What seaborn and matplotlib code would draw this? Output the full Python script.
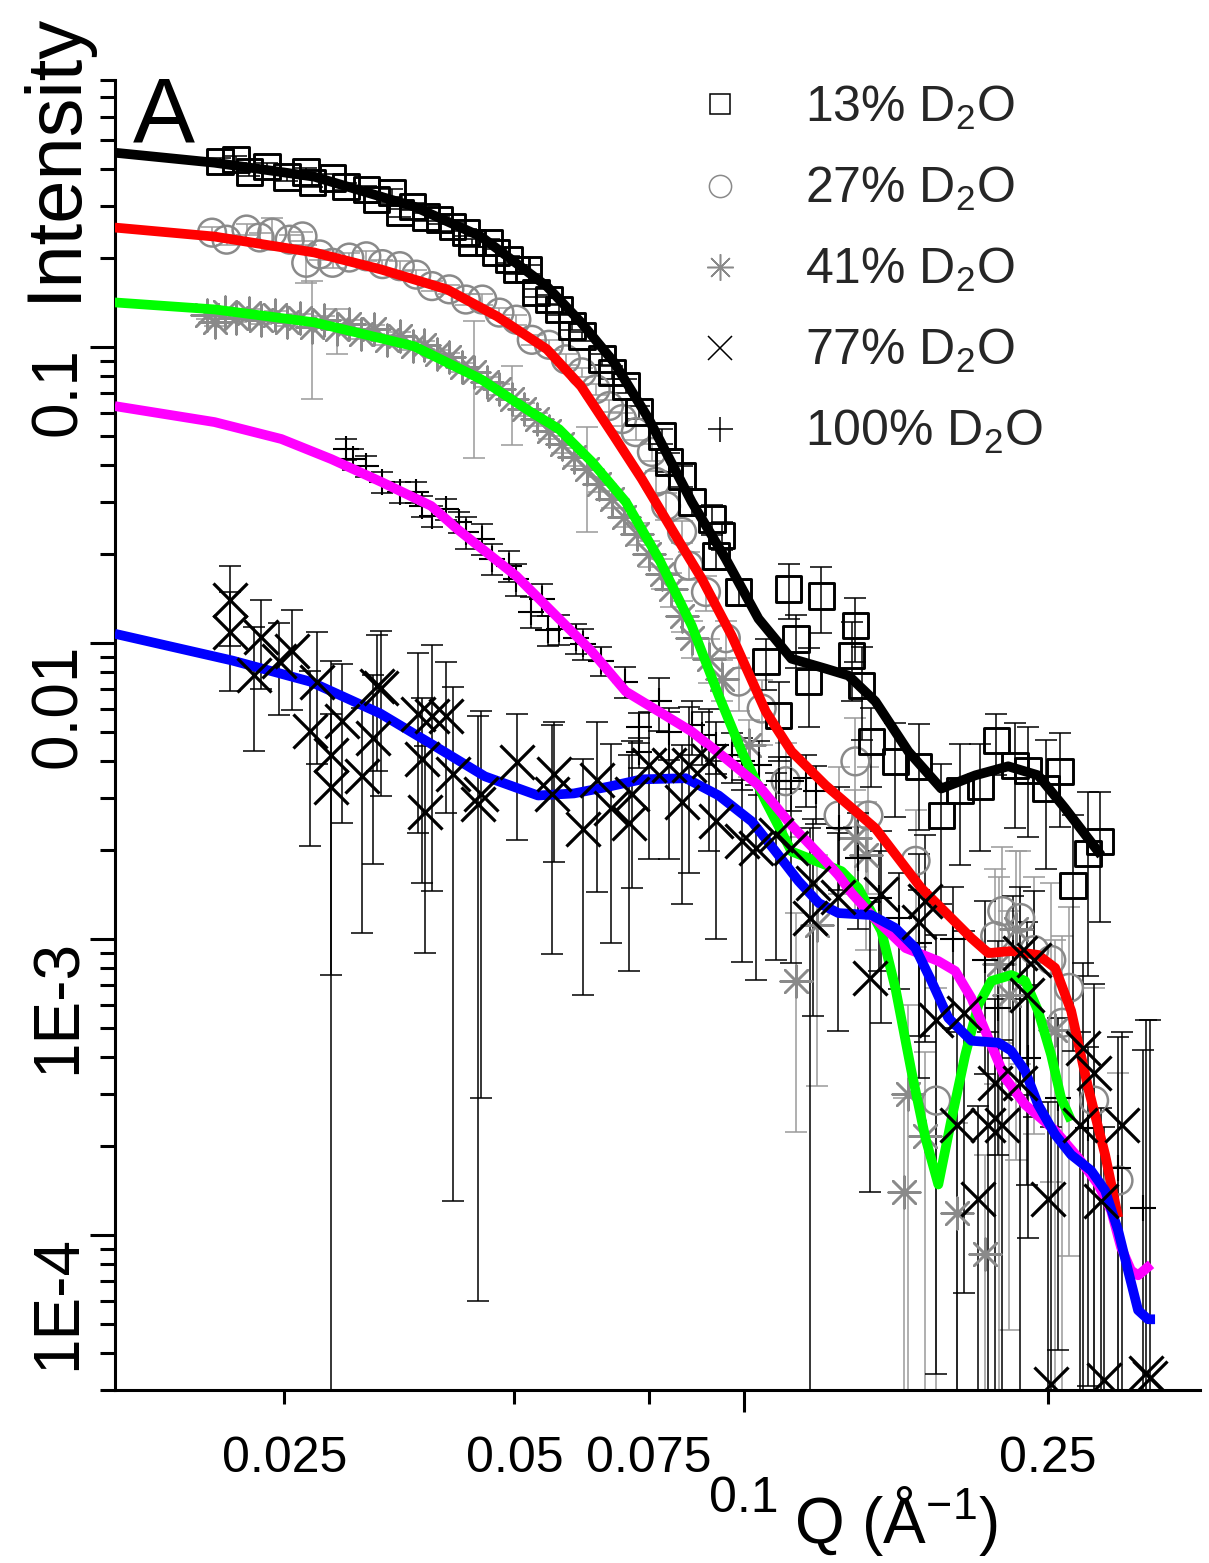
import matplotlib
matplotlib.use("Agg")
import numpy as np
import matplotlib.pyplot as plt
import seaborn as sns
from matplotlib.lines import Line2D
from matplotlib.ticker import FixedLocator, FixedFormatter, LogLocator, NullFormatter

# ---------------- measured SANS intensities (Q in 1/Angstrom) ----------------
# 13% D2O
q13 = [0.0206, 0.0216, 0.0225, 0.0237, 0.0252, 0.0267, 0.0272, 0.0289, 0.0301, 0.0320,
       0.0330, 0.0346, 0.0354, 0.0368, 0.0383, 0.0399, 0.0415, 0.0432, 0.0440, 0.0463,
       0.0473, 0.0492, 0.0503, 0.0522, 0.0534, 0.0555, 0.0572, 0.0595, 0.0613, 0.0651,
       0.0671, 0.0700, 0.0728, 0.0780, 0.0797, 0.0829, 0.0854, 0.0907, 0.0934, 0.0918,
       0.0983, 0.1067, 0.1109, 0.1143, 0.1168, 0.1214, 0.1262, 0.1382, 0.1398, 0.1424,
       0.1467, 0.1577, 0.1691, 0.1812, 0.1918, 0.2038, 0.2138, 0.2263, 0.2354, 0.2485,
       0.2592, 0.2695, 0.2820, 0.2924]
i13 = [0.424, 0.431, 0.392, 0.408, 0.377, 0.392, 0.360, 0.374, 0.349, 0.341,
       0.316, 0.333, 0.285, 0.299, 0.276, 0.270, 0.256, 0.244, 0.226, 0.226,
       0.209, 0.198, 0.183, 0.183, 0.153, 0.145, 0.134, 0.118, 0.109, 0.0911,
       0.0823, 0.0739, 0.0604, 0.0501, 0.0410, 0.0367, 0.0300, 0.0263, 0.0231, 0.0197,
       0.0149, 0.00867, 0.00570, 0.01528, 0.01036, 0.00742, 0.01447, 0.00908, 0.01147, 0.00720,
       0.00466, 0.00399, 0.00384, 0.00262, 0.00318, 0.00328, 0.00469, 0.00387, 0.00372, 0.00323,
       0.00369, 0.00152, 0.00195, 0.00214]
e13 = [0.013, 0.013, 0.012, 0.012, 0.011, 0.012, 0.011, 0.011, 0.010, 0.010,
       0.009, 0.010, 0.009, 0.009, 0.008, 0.008, 0.008, 0.007, 0.007, 0.007,
       0.006, 0.006, 0.006, 0.006, 0.005, 0.005, 0.005, 0.004, 0.004, 0.004,
       0.004, 0.004, 0.003, 0.003, 0.003, 0.003, 0.003, 0.003, 0.0025, 0.002,
       0.0015, 0.0017, 0.0017, 0.0032, 0.0021, 0.0022, 0.0036, 0.0027, 0.0028, 0.0025,
       0.0014, 0.0014, 0.0015, 0.0013, 0.0014, 0.0013, 0.0011, 0.0015, 0.0015, 0.0015,
       0.0013, 0.0011, 0.0012, 0.0010]

# 27% D2O
q27 = [0.0201, 0.0210, 0.0223, 0.0232, 0.0241, 0.0254, 0.0264, 0.0267, 0.0278, 0.0289,
       0.0304, 0.0320, 0.0336, 0.0354, 0.0372, 0.0390, 0.0411, 0.0432, 0.0454, 0.0478,
       0.0503, 0.0527, 0.0555, 0.0584, 0.0613, 0.0639, 0.0665, 0.0692, 0.0721, 0.0757,
       0.0766, 0.0790, 0.0829, 0.0846, 0.0891, 0.0946, 0.0983, 0.1054, 0.1133, 0.1329,
       0.1398, 0.1454, 0.1676, 0.1784, 0.2131, 0.2177, 0.2298, 0.2397, 0.2523, 0.2608,
       0.2662, 0.2871, 0.3090]
i27 = [0.244, 0.231, 0.250, 0.235, 0.244, 0.231, 0.237, 0.193, 0.206, 0.193,
       0.201, 0.203, 0.191, 0.188, 0.176, 0.161, 0.157, 0.145, 0.145, 0.131,
       0.124, 0.106, 0.102, 0.0911, 0.0823, 0.0722, 0.0633, 0.0572, 0.0517, 0.0443,
       0.0351, 0.0291, 0.0238, 0.0183, 0.0149, 0.0104, 0.00742, 0.00602, 0.00342, 0.00262,
       0.00399, 0.00262, 0.00184, 0.000285, 0.001025, 0.001245, 0.00118, 0.000919, 0.000851, 0.000522,
       0.000685, 0.000285, 0.000153]
e27 = [0.010, 0.009, 0.010, 0.009, 0.030, 0.009, 0.009, 0.028, 0.008, 0.008,
       0.008, 0.008, 0.007, 0.007, 0.007, 0.006, 0.006, 0.006, 0.006, 0.005,
       0.005, 0.004, 0.004, 0.004, 0.003, 0.003, 0.003, 0.003, 0.003, 0.003,
       0.003, 0.003, 0.002, 0.002, 0.002, 0.0015, 0.0015, 0.0015, 0.0012, 0.0012,
       0.0016, 0.0012, 0.0009, 0.0004, 0.0007, 0.0008, 0.0008, 0.0007, 0.0007, 0.0005,
       0.0006, 0.0004, 0.0002]

# 41% D2O
q41 = [0.0198, 0.0203, 0.0209, 0.0216, 0.0225, 0.0233, 0.0243, 0.0252, 0.0262, 0.0272,
       0.0282, 0.0293, 0.0304, 0.0315, 0.0328, 0.0341, 0.0354, 0.0368, 0.0381, 0.0396,
       0.0411, 0.0427, 0.0443, 0.0461, 0.0478, 0.0497, 0.0515, 0.0535, 0.0555, 0.0577,
       0.0599, 0.0622, 0.0645, 0.0671, 0.0696, 0.0724, 0.0750, 0.0780, 0.0801, 0.0829,
       0.0854, 0.0899, 0.0934, 0.1013, 0.1168, 0.1244, 0.1398, 0.1445, 0.1620, 0.1640,
       0.1726, 0.1901, 0.2069, 0.2157, 0.2223, 0.2270, 0.2553]
i41 = [0.129, 0.122, 0.132, 0.126, 0.131, 0.124, 0.129, 0.122, 0.126, 0.117,
       0.124, 0.115, 0.120, 0.111, 0.115, 0.106, 0.109, 0.101, 0.102, 0.0947,
       0.0925, 0.0856, 0.0823, 0.0762, 0.0722, 0.0668, 0.0618, 0.0572, 0.0521, 0.0471,
       0.0426, 0.0388, 0.0345, 0.0307, 0.0267, 0.0234, 0.0201, 0.0172, 0.0153, 0.0124,
       0.0104, 0.00887, 0.00760, 0.00452, 0.000723, 0.00112, 0.00219, 0.00192, 0.000140, 0.000301,
       0.000217, 0.000119, 0.0000861, 0.000825, 0.000648, 0.00108, 0.000494]
e41 = [0.004, 0.004, 0.004, 0.004, 0.004, 0.004, 0.004, 0.004, 0.004, 0.050,
       0.004, 0.020, 0.004, 0.004, 0.004, 0.004, 0.004, 0.003, 0.003, 0.003,
       0.003, 0.003, 0.040, 0.003, 0.003, 0.020, 0.003, 0.003, 0.003, 0.003,
       0.003, 0.015, 0.002, 0.002, 0.002, 0.002, 0.002, 0.002, 0.002, 0.0015,
       0.0015, 0.0015, 0.0012, 0.0010, 0.0005, 0.0008, 0.0010, 0.0010, 0.00015, 0.0003,
       0.0002, 0.00012, 0.0001, 0.0008, 0.0006, 0.0009, 0.0005]

# 77% D2O
q77 = [0.0212, 0.0212, 0.0228, 0.0233, 0.0246, 0.0256, 0.0270, 0.0276, 0.0288, 0.0288,
       0.0297, 0.0316, 0.0330, 0.0334, 0.0327, 0.0374, 0.0390, 0.0407, 0.0379, 0.0382,
       0.0416, 0.0448, 0.0452, 0.0504, 0.0560, 0.0564, 0.0615, 0.0642, 0.0669, 0.0706,
       0.0713, 0.0750, 0.0797, 0.0829, 0.0846, 0.0899, 0.0918, 0.0993, 0.1035, 0.1099,
       0.1153, 0.1218, 0.1232, 0.1325, 0.1459, 0.1508, 0.1691, 0.1726, 0.1784, 0.1901,
       0.1942, 0.2025, 0.2087, 0.2131, 0.2177, 0.2298, 0.2298, 0.2347, 0.2397, 0.2500,
       0.2752, 0.2777, 0.2871, 0.2933, 0.3123, 0.2523, 0.2960, 0.3358, 0.3398]
i77 = [0.0140, 0.0109, 0.00784, 0.0105, 0.00874, 0.00944, 0.00507, 0.00742, 0.00418, 0.00326,
       0.00548, 0.00355, 0.00720, 0.00704, 0.00480, 0.00579, 0.00566, 0.00566, 0.00405, 0.00270,
       0.00363, 0.00286, 0.00309, 0.00396, 0.00309, 0.00363, 0.00235, 0.00344, 0.00277, 0.00248,
       0.00309, 0.00387, 0.00387, 0.00292, 0.00387, 0.00399, 0.00250, 0.00214, 0.00203, 0.00225,
       0.00203, 0.00118, 0.00155, 0.00139, 0.00074, 0.00142, 0.00114, 0.00135, 0.000534, 0.000236,
       0.000564, 0.000133, 0.000236, 0.000327, 0.000236, 0.000898, 0.000327, 0.000648, 0.000851, 0.000133,
       0.000236, 0.00043, 0.000354, 0.00013, 0.000236, 0.0000314, 0.0000324, 0.0000342, 0.000033]
e77 = [0.0042, 0.0040, 0.0035, 0.0035, 0.0030, 0.0035, 0.0030, 0.0035, 0.0045, 0.0025,
       0.0030, 0.0025, 0.0035, 0.0040, 0.0030, 0.0035, 0.0042, 0.0030, 0.0025, 0.0018,
       0.0035, 0.0028, 0.0028, 0.0018, 0.0022, 0.0018, 0.0017, 0.0020, 0.0018, 0.0017,
       0.0016, 0.0020, 0.0020, 0.0016, 0.0022, 0.0020, 0.0015, 0.0013, 0.0013, 0.0014,
       0.0012, 0.0012, 0.0010, 0.0009, 0.0006, 0.0009, 0.0008, 0.0009, 0.0005, 0.00025,
       0.0005, 0.00014, 0.00025, 0.0003, 0.00022, 0.0006, 0.0003, 0.0005, 0.0006, 0.00015,
       0.00025, 0.0004, 0.00035, 0.00014, 0.00025, 0.0002, 0.0002, 0.0005, 0.0005]

# 100% D2O
q100 = [0.0301, 0.0307, 0.0320, 0.0336, 0.0354, 0.0372, 0.0379, 0.0390, 0.0407, 0.0423,
        0.0432, 0.0454, 0.0468, 0.0492, 0.0503, 0.0526, 0.0544, 0.0554, 0.0572, 0.0602,
        0.0615, 0.0649, 0.0698, 0.0728, 0.0728, 0.0773, 0.0797, 0.0854, 0.0880, 0.0918,
        0.0963, 0.0993, 0.1045, 0.1109, 0.1153, 0.1203, 0.1240, 0.1329, 0.1411, 0.1499,
        0.1592, 0.1691, 0.1878, 0.2069, 0.2250, 0.2151, 0.2354, 0.2577, 0.2820, 0.3090,
        0.3328]
i100 = [0.0453, 0.0419, 0.0397, 0.0351, 0.0324, 0.0324, 0.0291, 0.0269, 0.0284, 0.0257,
        0.0238, 0.0225, 0.0193, 0.0183, 0.0165, 0.0128, 0.0141, 0.0111, 0.0112, 0.0104,
        0.00997, 0.00874, 0.00742, 0.00520, 0.00428, 0.00636, 0.00503, 0.00528, 0.00488, 0.00452,
        0.00418, 0.00399, 0.00387, 0.00342, 0.00342, 0.00350, 0.00316, 0.00237, 0.00188, 0.00138,
        0.00118, 0.000971, 0.00100, 0.000851, 0.000898, 0.000586, 0.000398, 0.000291, 0.000231, 0.000169,
        0.000124]
e100 = [0.0036, 0.0034, 0.0032, 0.0028, 0.0026, 0.0026, 0.0023, 0.0022, 0.0023, 0.0021,
        0.0029, 0.0027, 0.0023, 0.0022, 0.0020, 0.0015, 0.0017, 0.0013, 0.0013, 0.0012,
        0.0012, 0.0010, 0.0009, 0.0006, 0.0005, 0.0013, 0.0010, 0.0011, 0.0010, 0.0009,
        0.0008, 0.0008, 0.0008, 0.0007, 0.0007, 0.0007, 0.0007, 0.0009, 0.0008, 0.0006,
        0.0005, 0.0005, 0.0005, 0.0005, 0.0005, 0.0004, 0.0003, 0.00025, 0.0002, 0.0003,
        0.0003]

# ---------------- model fits ----------------
fq13 = [0.01499, 0.02025, 0.02736, 0.03697, 0.04522, 0.05516, 0.06113, 0.06753, 0.0750, 0.08537,
        0.09457, 0.1044, 0.1153, 0.1278, 0.1369, 0.1485, 0.1640, 0.1811, 0.2007, 0.2216,
        0.2425, 0.2630, 0.2933]
fi13 = [0.4545, 0.4205, 0.3771, 0.2988, 0.2367, 0.1606, 0.1214, 0.0890, 0.0572, 0.03002,
        0.01929, 0.01210, 0.00887, 0.00821, 0.00778, 0.00636, 0.00431, 0.00323, 0.00358, 0.00384,
        0.00358, 0.00277, 0.00192]

fq27 = [0.01499, 0.02025, 0.02736, 0.03347, 0.04083, 0.04747, 0.05516, 0.06113, 0.06753, 0.07343,
        0.08135, 0.08799, 0.09629, 0.1067, 0.1153, 0.1278, 0.1485, 0.1705, 0.1983, 0.2087,
        0.2236, 0.2425, 0.2553, 0.2679, 0.2820, 0.2968, 0.3087]
fi27 = [0.2539, 0.2367, 0.2091, 0.1832, 0.1569, 0.1272, 0.0985, 0.0739, 0.0501, 0.0359,
        0.02305, 0.01651, 0.01061, 0.00588, 0.00431, 0.00331, 0.00237, 0.001488, 0.001009, 0.000898,
        0.000912, 0.000885, 0.000800, 0.000573, 0.000315, 0.000187, 0.0001148]

fq41 = [0.01499, 0.02025, 0.02736, 0.03697, 0.04522, 0.05258, 0.05721, 0.06318, 0.06998, 0.07731,
        0.08537, 0.09259, 0.09923, 0.1067, 0.1153, 0.1341, 0.1411, 0.1512, 0.1577, 0.1655,
        0.1726, 0.1795, 0.1866, 0.1947, 0.2025, 0.2106, 0.2236, 0.2332, 0.2425, 0.2522,
        0.2599, 0.2679]
fi41 = [0.1418, 0.1343, 0.1214, 0.1008, 0.0780, 0.0604, 0.0529, 0.0410, 0.03002, 0.01929,
        0.01146, 0.00666, 0.00431, 0.00292, 0.00198, 0.001698, 0.001488, 0.001066, 0.000685, 0.000359,
        0.000214, 0.0001484, 0.0002438, 0.000407, 0.0006, 0.000723, 0.000757, 0.000723, 0.000573, 0.000407,
        0.000291, 0.0002438]

fq77 = [0.01499, 0.02138, 0.02703, 0.03338, 0.03903, 0.04576, 0.05370, 0.05985, 0.06652, 0.07343,
        0.08384, 0.09259, 0.1023, 0.1099, 0.1178, 0.1252, 0.1328, 0.1467, 0.1577, 0.1675,
        0.1758, 0.1850, 0.1983, 0.2151, 0.2236, 0.2332, 0.2425, 0.2553, 0.2679, 0.2845,
        0.2968, 0.3087, 0.3180, 0.3278, 0.3378, 0.3450]
fi77 = [0.01077, 0.00874, 0.00742, 0.00579, 0.00455, 0.00355, 0.00306, 0.00311, 0.00328, 0.00347,
        0.00350, 0.00306, 0.0025, 0.00198, 0.001571, 0.001325, 0.001226, 0.001207, 0.001091, 0.000934,
        0.000723, 0.000542, 0.000454, 0.000447, 0.00042, 0.000359, 0.000276, 0.0002187, 0.000187, 0.0001654,
        0.0001416, 0.0001037, 0.0000761, 0.0000558, 0.000052, 0.000052]

fq100 = [0.01499, 0.02025, 0.02477, 0.02880, 0.03347, 0.03892, 0.04208, 0.04536, 0.05027, 0.05721,
         0.06318, 0.06998, 0.07731, 0.08537, 0.09457, 0.1044, 0.1153, 0.1278, 0.1328, 0.1382,
         0.1467, 0.1626, 0.1795, 0.1889, 0.1983, 0.2068, 0.2196, 0.2332, 0.2553, 0.2736,
         0.2906, 0.3022, 0.3114, 0.3209, 0.3278, 0.3409]
fi100 = [0.0633, 0.0559, 0.0490, 0.0419, 0.0351, 0.0291, 0.02434, 0.02085, 0.01690, 0.01210,
         0.00937, 0.00687, 0.00588, 0.00503, 0.00408, 0.00331, 0.002427, 0.001835, 0.001646, 0.001432,
         0.001207, 0.000934, 0.000844, 0.000781, 0.000633, 0.00049, 0.00034, 0.000276, 0.0002256, 0.000183,
         0.0001484, 0.0001212, 0.0000910, 0.0000761, 0.0000732, 0.0000797]

legend_labels = ["13% D$_2$O", "27% D$_2$O", "41% D$_2$O", "77% D$_2$O", "100% D$_2$O"]
x_tick_vals = [0.025, 0.05, 0.075, 0.25]
x_tick_text = ["0.025", "0.05", "0.075", "0.25"]
y_tick_vals = [1e-4, 1e-3, 1e-2, 1e-1]
y_tick_text = ["1E-4", "1E-3", "0.01", "0.1"]

# ---------------- style ----------------
sns.set_theme(style="ticks")
plt.rcParams["font.family"] = ["Liberation Sans", "DejaVu Sans"]
plt.rcParams["mathtext.fontset"] = "custom"
plt.rcParams["mathtext.rm"] = "Liberation Sans"
plt.rcParams["mathtext.it"] = "Liberation Sans:italic"
plt.rcParams["mathtext.bf"] = "Liberation Sans:bold"
plt.rcParams["mathtext.default"] = "regular"

GRAY = "#8a8a8a"
BAR_GRAY = "#9a9a9a"

fig = plt.figure(figsize=(12.09, 15.63), dpi=100)
ax = fig.add_axes([0.0951, 0.1107, 0.8974, 0.8381])
ax.set_xscale("log")
ax.set_yscale("log")

# error bars underneath everything
bar_kw = dict(fmt="none", elinewidth=1.1, capsize=8, capthick=1.1, zorder=1)
ax.errorbar(q41, i41, yerr=e41, ecolor=BAR_GRAY, **bar_kw)
ax.errorbar(q27, i27, yerr=e27, ecolor=BAR_GRAY, **bar_kw)
ax.errorbar(q13, i13, yerr=e13, ecolor="black", **bar_kw)
ax.errorbar(q77, i77, yerr=e77, ecolor="black", **bar_kw)
ax.errorbar(q100, i100, yerr=e100, ecolor="black", **bar_kw)

# data symbols
sns.scatterplot(x=q41, y=i41, marker=(8, 2, 0), s=520, color=GRAY, linewidth=1.8, ax=ax, zorder=2)
sns.scatterplot(x=q27, y=i27, marker="o", s=400, facecolor="none", edgecolor=GRAY, linewidth=1.8, ax=ax, zorder=2)
sns.scatterplot(x=q13, y=i13, marker="s", s=340, facecolor="none", edgecolor="black", linewidth=2.1, ax=ax, zorder=2)
sns.scatterplot(x=q100, y=i100, marker="+", s=360, color="black", linewidth=1.5, ax=ax, zorder=2)

# model curves
fit_kw = dict(sort=False, estimator=None, linewidth=7, solid_joinstyle="round", solid_capstyle="butt", ax=ax, zorder=3)
sns.lineplot(x=fq13, y=fi13, color="black", **fit_kw)
sns.lineplot(x=fq27, y=fi27, color="#ff0000", **fit_kw)
sns.lineplot(x=fq41, y=fi41, color="#00ff00", **fit_kw)
sns.lineplot(x=fq100, y=fi100, color="#ff00ff", **fit_kw)
sns.lineplot(x=fq77, y=fi77, color="#0000ff", **fit_kw)

sns.scatterplot(x=q77, y=i77, marker="x", s=600, color="black", linewidth=2.3, ax=ax, zorder=4)

# ---------------- axes ----------------
ax.set_xlim(0.015, 0.395)
ax.set_ylim(3e-5, 0.8)
for side in ("top", "right"):
    ax.spines[side].set_visible(False)
for side in ("left", "bottom"):
    ax.spines[side].set_linewidth(2.2)
    ax.spines[side].set_color("black")

ax.xaxis.set_major_locator(FixedLocator([0.1]))
ax.xaxis.set_major_formatter(FixedFormatter(["0.1"]))
ax.xaxis.set_minor_locator(FixedLocator(x_tick_vals))
ax.xaxis.set_minor_formatter(FixedFormatter(x_tick_text))
ax.tick_params(axis="x", which="major", direction="out", length=16, width=2.2, pad=46,
               labelsize=36, color="black", labelcolor="black")
ax.tick_params(axis="x", which="minor", direction="out", length=10, width=2.2, pad=23,
               labelsize=36, color="black", labelcolor="black")

ax.yaxis.set_major_locator(FixedLocator(y_tick_vals))
ax.yaxis.set_major_formatter(FixedFormatter(y_tick_text))
ax.yaxis.set_minor_locator(LogLocator(base=10, subs=np.arange(2, 10) * 1.0, numticks=30))
ax.yaxis.set_minor_formatter(NullFormatter())
ax.tick_params(axis="y", which="major", direction="out", length=18, width=2.2, pad=1,
               labelsize=46, labelrotation=90, color="black", labelcolor="black")
ax.tick_params(axis="y", which="minor", direction="out", length=11, width=2.2, color="black")
for lbl in ax.get_yticklabels():
    lbl.set_verticalalignment("top")
    lbl.set_horizontalalignment("right")

ax.set_ylabel("Intensity", fontsize=56, color="black")
ax.yaxis.set_label_coords(-0.022, 0.942)
ax.set_xlabel("Q (Å$^{-1}$)", fontsize=46, color="black")
ax.xaxis.set_label_coords(0.72, -0.072)

ax.text(0.0166, 0.952, "A", transform=ax.transAxes, fontsize=67, ha="left", va="baseline", color="black")

# legend
handles = [
    Line2D([], [], ls="none", marker="s", ms=14, mfc="none", mec="black", mew=1.1),
    Line2D([], [], ls="none", marker="o", ms=16, mfc="none", mec=GRAY, mew=1.1),
    Line2D([], [], ls="none", marker=(8, 2, 0), ms=19, mec=GRAY, mew=1.1),
    Line2D([], [], ls="none", marker="x", ms=17, mec="black", mew=1.1),
    Line2D([], [], ls="none", marker="+", ms=18, mec="black", mew=1.1),
]
ax.legend(handles, legend_labels, loc="upper left", bbox_to_anchor=(0.535, 0.997),
          frameon=False, fontsize=36, handlelength=1.0, handletextpad=1.2,
          labelspacing=0.66, borderpad=0, borderaxespad=0)

fig.savefig("out.png", dpi=100, facecolor="white")
